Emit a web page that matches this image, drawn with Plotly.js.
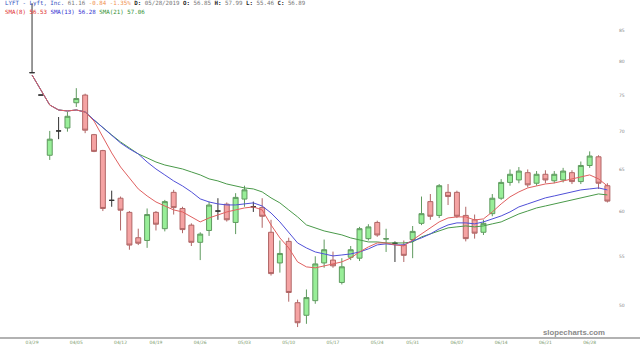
<!DOCTYPE html>
<html><head><meta charset="utf-8">
<script src="https://cdn.plot.ly/plotly-3.0.1.min.js"></script>
<style>html,body{margin:0;padding:0;background:#fff}#c{width:640px;height:352px}</style>
</head><body><div id="c"></div>
<script>
const dates = ["2019-03-29",
"2019-04-01","2019-04-02","2019-04-03","2019-04-04","2019-04-05",
"2019-04-08","2019-04-09","2019-04-10","2019-04-11","2019-04-12",
"2019-04-15","2019-04-16","2019-04-17","2019-04-18",
"2019-04-22","2019-04-23","2019-04-24","2019-04-25","2019-04-26",
"2019-04-29","2019-04-30","2019-05-01","2019-05-02","2019-05-03",
"2019-05-06","2019-05-07","2019-05-08","2019-05-09","2019-05-10",
"2019-05-13","2019-05-14","2019-05-15","2019-05-16","2019-05-17",
"2019-05-20","2019-05-21","2019-05-22","2019-05-23","2019-05-24",
"2019-05-28","2019-05-29","2019-05-30","2019-05-31",
"2019-06-03","2019-06-04","2019-06-05","2019-06-06","2019-06-07",
"2019-06-10","2019-06-11","2019-06-12","2019-06-13","2019-06-14",
"2019-06-17","2019-06-18","2019-06-19","2019-06-20","2019-06-21",
"2019-06-24","2019-06-25","2019-06-26","2019-06-27","2019-06-28",
"2019-07-01","2019-07-02"];
const open  = [78.3,75.0,66.8,70.0,70.4,73.9,75.0,69.5,67.4,61.25,61.5,59.85,57.0,56.7,59.85,58.0,62.2,60.3,58.4,56.5,57.8,60.0,60.8,58.7,61.4,60.5,60.4,57.6,54.3,56.6,50.3,49.1,50.5,54.3,54.6,52.3,54.9,54.8,56.9,58.7,56.85,56.4,56.2,56.8,58.6,61.1,59.5,62.2,62.2,59.5,59.0,57.6,59.7,61.5,63.4,63.7,64.6,63.3,64.4,63.6,63.7,64.6,63.5,65.5,66.6,63.0];
const high  = [89.5,75.0,70.0,71.9,72.6,76.0,75.2,69.6,67.5,62.4,61.7,60.0,58.0,60.3,60.0,61.3,62.5,60.5,58.6,57.6,61.1,61.5,61.0,62.1,63.0,61.1,61.5,59.0,56.7,57.0,50.6,51.6,55.0,56.8,55.5,54.8,56.1,58.2,58.5,58.9,57.99,56.6,56.7,58.3,61.7,62.0,63.2,63.2,62.4,60.5,59.6,59.0,62.0,63.8,65.0,65.3,65.0,64.8,64.9,64.8,65.2,64.9,66.0,67.3,66.8,63.3];
const low   = [78.3,75.0,66.2,68.9,69.9,73.3,69.7,67.2,60.0,60.5,57.8,55.7,56.2,55.9,57.8,57.7,59.6,57.5,56.1,54.6,57.2,59.0,58.8,57.4,60.5,59.9,58.1,53.0,53.3,50.4,48.0,48.3,50.2,53.8,53.8,52.1,54.6,54.5,56.7,57.1,55.46,54.4,54.4,54.8,58.4,59.0,59.2,60.7,59.2,56.6,56.9,57.3,59.4,61.3,63.0,63.3,62.8,63.0,63.3,63.3,63.4,63.2,63.2,65.2,62.6,61.0];
const close = [78.3,75.0,68.9,70.0,72.0,74.5,70.1,67.3,60.3,61.25,60.1,56.2,56.4,59.6,58.5,61.1,60.4,57.9,56.5,57.4,60.7,60.0,59.0,61.6,62.5,60.5,59.4,53.2,55.3,51.3,48.4,50.8,54.2,55.7,54.0,53.9,55.7,58.0,58.2,57.3,56.89,56.4,55.1,57.7,59.7,59.4,63.0,61.7,59.4,56.9,57.5,58.6,61.5,63.4,64.4,64.8,63.1,64.4,63.7,64.4,64.8,63.5,65.5,66.7,63.3,61.16];
const ma8  = [77.95,75.74,73.58,72.88,72.74,72.88,72.60,71.35,69.19,67.10,65.31,63.95,62.61,61.77,61.06,60.59,60.13,59.90,59.33,58.76,59.21,59.55,59.90,60.13,60.36,60.48,60.13,58.42,56.98,55.89,54.41,53.89,53.79,53.99,54.20,54.41,54.82,55.46,56.00,56.43,56.43,56.22,56.11,56.76,57.42,58.09,58.76,59.21,59.33,59.33,58.98,59.10,59.90,60.83,61.66,62.25,62.73,62.97,63.21,63.33,63.58,63.83,64.07,64.32,63.83,62.97];
const ma13 = [77.95,75.74,73.58,72.88,72.74,72.88,72.60,71.49,70.40,69.33,68.40,67.62,66.97,65.94,65.06,64.32,63.58,62.97,62.25,61.42,61.06,60.83,60.71,60.71,60.83,60.95,60.59,59.78,58.76,57.64,56.43,55.89,55.46,55.25,55.04,55.14,55.25,55.46,55.79,56.22,56.33,56.22,56.22,56.65,56.98,57.42,57.98,58.42,58.65,58.65,58.54,58.76,59.10,59.44,59.90,60.48,60.83,61.18,61.54,61.77,62.01,62.25,62.49,62.61,62.73,62.49];
const ma21 = [77.95,75.74,73.58,72.88,72.74,72.88,72.60,71.49,70.40,69.46,68.53,67.75,66.97,66.46,65.94,65.56,65.31,65.06,64.69,64.32,63.83,63.58,63.21,62.97,62.73,62.61,62.25,61.54,60.95,60.13,59.33,58.42,58.09,57.75,57.53,57.31,56.98,56.76,56.54,56.54,56.43,56.43,56.43,56.54,57.09,57.42,57.75,58.09,58.20,58.31,58.20,58.31,58.54,58.76,59.21,59.67,60.01,60.36,60.59,60.83,61.06,61.30,61.54,61.77,62.01,61.89];
const tickDates = ["2019-03-29","2019-04-05","2019-04-12","2019-04-18","2019-04-26","2019-05-03","2019-05-10","2019-05-17","2019-05-24","2019-05-31","2019-06-07","2019-06-14","2019-06-21","2019-06-28"];
const tickLabels = ["03/29","04/05","04/12","04/19","04/26","05/03","05/10","05/17","05/24","05/31","06/07","06/14","06/21","06/28"];
const priceTicks = [50,55,60,65,70,75,80,85];

const idxBody = [], idxDoji = [];
dates.forEach((d,i)=>{ (open[i]===close[i] ? idxDoji : idxBody).push(i); });
const pick = (arr, idx) => idx.map(i=>arr[i]);

const traces = [
 {type:'candlestick', x:pick(dates,idxBody), open:pick(open,idxBody), high:pick(high,idxBody), low:pick(low,idxBody), close:pick(close,idxBody),
  increasing:{fillcolor:'#98ee98', line:{color:'#5f9a5f', width:1}},
  decreasing:{fillcolor:'#f5a3a3', line:{color:'#b06666', width:1}},
  whiskerwidth:0, hoverinfo:'skip'},
 {type:'candlestick', x:pick(dates,idxDoji), open:pick(open,idxDoji), high:pick(high,idxDoji), low:pick(low,idxDoji), close:pick(close,idxDoji),
  increasing:{fillcolor:'#333', line:{color:'#333', width:1}},
  decreasing:{fillcolor:'#333', line:{color:'#333', width:1}},
  whiskerwidth:0, hoverinfo:'skip'},
 {type:'scatter', mode:'lines', x:dates, y:ma21, line:{color:'#4a9a4a', width:1}, hoverinfo:'skip'},
 {type:'scatter', mode:'lines', x:dates, y:ma13, line:{color:'#5050d8', width:1}, hoverinfo:'skip'},
 {type:'scatter', mode:'lines', x:dates, y:ma8, line:{color:'#e06060', width:1}, hoverinfo:'skip'}
];

const g = s => '<span style="color:#777">'+s+'</span>';
const b = s => '<b><span style="color:#222">'+s+'</span></b>';
const header1 = '<span style="color:#2f4fc0">LYFT - Lyft, Inc.</span> ' + g('61.16') + ' <span style="color:#f09050">-0.84 -1.35%</span> '
  + b('D:') + ' ' + g('05/28/2019') + ' ' + b('O:') + ' ' + g(String(open[40])) + ' ' + b('H:') + ' ' + g(String(high[40]))
  + ' ' + b('L:') + ' ' + g(String(low[40])) + ' ' + b('C:') + ' ' + g(String(close[40]));
const header2 = '<span style="color:#e03030">SMA(8) 56.53</span> <span style="color:#3030d0">SMA(13) 56.28</span> <span style="color:#309030">SMA(21) 57.06</span>';

const layout = {
 width:640, height:352,
 margin:{l:0, r:22, t:0, b:14},
 paper_bgcolor:'#fff', plot_bgcolor:'#fff',
 showlegend:false, hovermode:false, boxgap:0.2,
 xaxis:{type:'category', categoryorder:'array', categoryarray:dates, range:[-3.62, 66.2],
   rangeslider:{visible:false}, showgrid:false, zeroline:false, showline:false,
   tickmode:'array', tickvals:tickDates, ticktext:tickLabels, ticks:'',
   tickfont:{family:'DejaVu Sans', size:4.5, color:'#7a9a6a'}},
 yaxis:{type:'log', side:'right', range:[Math.log10(47.0), Math.log10(90.05)], showgrid:false, zeroline:false, showline:false,
   tickmode:'array', tickvals:priceTicks, ticktext:priceTicks.map(String), ticks:'',
   tickfont:{family:'DejaVu Sans', size:4.5, color:'#888'}},
 shapes:[{type:'line', xref:'paper', yref:'paper', x0:0, x1:640/618, y0:0, y1:0, line:{color:'#999', width:1.5}}],
 annotations:[
  {xref:'paper', yref:'paper', x:3/618, y:1-4/338, xanchor:'left', yanchor:'middle', showarrow:false, align:'left',
   text:header1, font:{family:'DejaVu Sans Mono', size:5.8, color:'#777'}},
  {xref:'paper', yref:'paper', x:3/618, y:1-12/338, xanchor:'left', yanchor:'middle', showarrow:false, align:'left',
   text:header2, font:{family:'DejaVu Sans Mono', size:5.8, color:'#777'}},
  {xref:'paper', yref:'paper', x:607/618, y:6/338, xanchor:'right', yanchor:'middle', showarrow:false,
   text:'<b>slopecharts.com</b>', font:{family:'Liberation Sans', size:7.8, color:'#8a8a8a'}}
 ]
};
Plotly.newPlot('c', traces, layout, {displayModeBar:false, staticPlot:true});
</script></body></html>
